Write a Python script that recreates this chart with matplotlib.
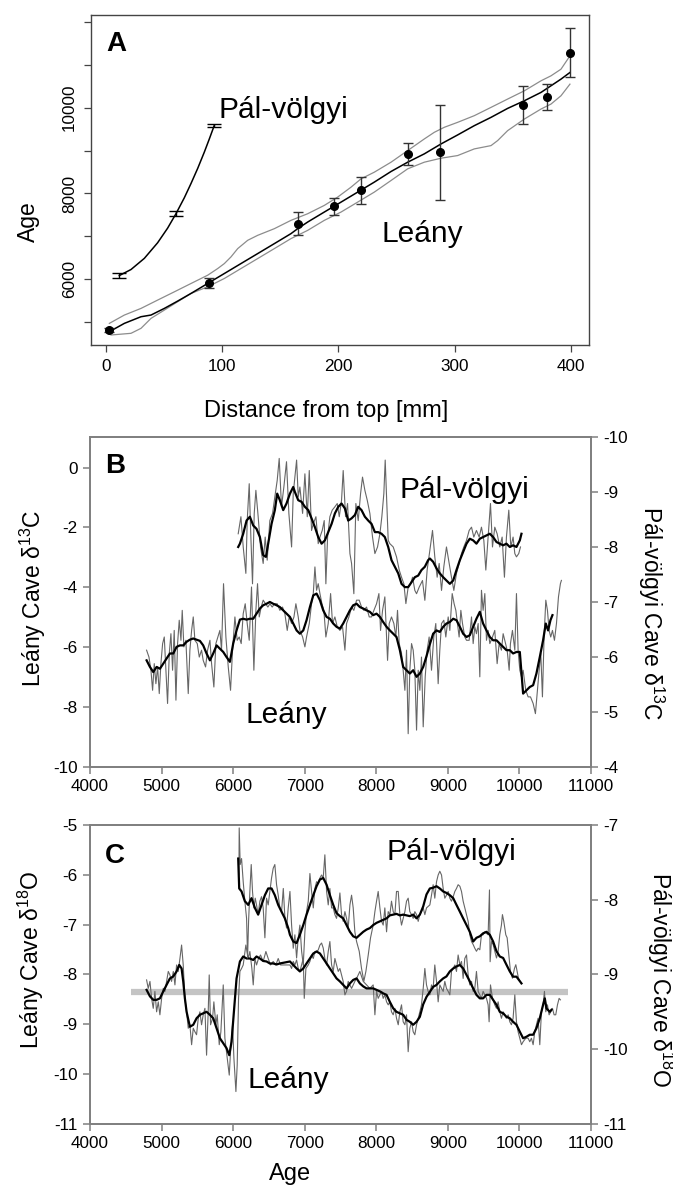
import matplotlib.pyplot as plt

plt.rcParams['font.family'] = ['Liberation Sans', 'DejaVu Sans']
plt.rcParams['mathtext.fontset'] = 'custom'
plt.rcParams['mathtext.rm'] = 'Liberation Sans'
plt.rcParams['axes.unicode_minus'] = False

TICKFONT = ['Liberation Sans Narrow', 'Liberation Sans', 'DejaVu Sans']
TICKSIZE = 12.3

# ---------------- panel A : age models ----------------
lean_mm = [2.9, 88.9, 164.9, 196.4, 219.4, 259.5, 287.6, 359.0, 379.4, 399.1]
lean_age = [4814, 5915, 7295, 7705, 8070, 8923, 8961, 10062, 10256, 11287]
lean_err = [54, 116, 271, 200, 322, 248, 1105, 434, 298, 570]

lean_mod_mm = [2.9, 15.8, 30.1, 38.7, 50.2, 61.6, 73.1, 87.4, 101.8, 116.1, 130.5, 144.8,
               159.1, 164.9, 173.5, 187.8, 202.2, 216.5, 230.8, 245.2, 259.5, 273.8, 288.2,
               302.5, 316.8, 331.2, 345.5, 359.9, 374.2, 382.8, 391.4, 399.1]
lean_mod_age = [4775, 4969, 5124, 5163, 5318, 5488, 5667, 5899, 6132, 6364, 6597, 6829,
                7062, 7178, 7333, 7566, 7798, 8031, 8264, 8512, 8729, 8923, 9155,
                9365, 9581, 9775, 9984, 10163, 10357, 10512, 10667, 10822]

lean_up_mm = [2.9, 15.8, 30.1, 44.4, 58.8, 73.1, 87.5, 96.1, 101.8, 107.5, 113.3, 121.9,
              130.5, 144.8, 159.1, 173.5, 187.8, 199.3, 210.8, 219.4, 230.8, 245.2, 259.5,
              273.8, 282.4, 291.0, 302.5, 316.8, 331.2, 345.5, 359.9, 374.2, 382.8, 391.4, 399.1]
lean_up_age = [4969, 5163, 5318, 5512, 5705, 5899, 6093, 6248, 6364, 6519, 6713, 6907,
               7023, 7178, 7372, 7527, 7721, 7915, 8147, 8341, 8496, 8729, 9000,
               9271, 9426, 9543, 9659, 9814, 10008, 10202, 10395, 10628, 10744, 10899, 11209]

lean_lo_mm = [4.3, 21.5, 30.1, 38.7, 50.2, 61.6, 73.1, 87.5, 101.8, 116.1, 130.5, 144.8,
              159.1, 173.5, 187.8, 202.2, 216.5, 230.8, 245.2, 259.5, 273.8, 288.2, 302.5,
              316.8, 331.2, 336.9, 345.5, 359.9, 374.2, 382.8, 391.4, 399.1]
lean_lo_age = [4698, 4737, 4853, 5085, 5279, 5473, 5667, 5822, 6016, 6248, 6481, 6713,
               6946, 7139, 7372, 7566, 7798, 8031, 8302, 8574, 8729, 8822, 8884,
               9039, 9116, 9233, 9465, 9736, 9969, 10085, 10279, 10550]

pal_mm = [11.5, 60.2, 93.2]
pal_age = [6085, 7527, 9590]
pal_err = [58, 58, 40]
pal_mod_mm = [11.5, 21.5, 33.0, 44.4, 53.0, 60.2, 67.4, 73.1, 78.9, 84.6, 88.9, 93.2]
pal_mod_age = [6085, 6225, 6486, 6849, 7190, 7527, 7900, 8230, 8585, 8965, 9272, 9590]

a_xticks = [0, 100, 200, 300, 400]
a_yticks = [5000, 6000, 7000, 8000, 9000, 10000, 11000, 12000]
a_ylabels = ['', '6000', '', '8000', '', '10000', '', '']

# ---------------- panel B : d13C ----------------
b_lean_age = [4791, 4824, 4852, 4875, 4898, 4921, 4945, 4968, 4991, 5015, 5038, 5061, 5084,
              5108, 5131, 5154, 5177, 5201, 5224, 5247, 5271, 5289, 5312, 5340, 5373, 5396,
              5420, 5443, 5466, 5499, 5527, 5559, 5582, 5615, 5643, 5676, 5699, 5731, 5759,
              5787, 5815, 5838, 5866, 5899, 5932, 5964, 5992, 6025, 6057, 6085, 6113, 6141,
              6169, 6197, 6225, 6257, 6290, 6318, 6341, 6365, 6392, 6420, 6453, 6486, 6514,
              6546, 6579, 6616, 6653, 6690, 6723, 6756, 6784,
              6817, 6850, 6877, 6910, 6933, 6971, 7003, 7026, 7064, 7096, 7120, 7143, 7166,
              7189, 7213, 7241, 7268, 7296, 7329, 7362, 7389, 7422, 7455, 7492, 7529, 7562,
              7585, 7618, 7655, 7687, 7725, 7762, 7794, 7827, 7864, 7902, 7934, 7967, 8004,
              8037, 8060, 8088, 8120, 8144, 8158, 8181, 8213, 8246, 8274, 8297, 8321, 8353,
              8376, 8400, 8423, 8446, 8469, 8493, 8516, 8539, 8563, 8586, 8609, 8632, 8656,
              8684, 8711, 8739,
              8772, 8804, 8832, 8865, 8888, 8912, 8944, 8972, 9005, 9028, 9061, 9088, 9112,
              9135, 9158, 9182, 9205, 9237, 9261, 9298, 9331, 9354, 9377, 9400, 9424, 9447,
              9470, 9493, 9517, 9540, 9563, 9587, 9624, 9656, 9689, 9717, 9749, 9773, 9796,
              9829, 9857, 9875, 9903, 9936, 9959, 9982, 10006, 10029, 10052, 10089, 10122,
              10155, 10192, 10224, 10252, 10276, 10299, 10322, 10345, 10369, 10392, 10415,
              10438, 10462, 10490, 10518, 10546, 10573, 10587]
b_lean_raw = [-6.10, -6.33, -6.77, -7.44, -6.55, -7.22, -6.66, -7.55, -6.55, -5.88, -5.66, -6.77, -7.88,
              -6.21, -5.55, -6.77, -5.44, -7.77, -5.88, -5.10, -5.77, -4.77, -5.99, -5.77, -7.55, -6.10,
              -5.44, -4.99, -5.77, -5.88, -6.33, -6.10, -6.44, -6.66, -6.10, -5.77, -6.55, -7.33, -5.88,
              -5.66, -5.44, -6.10, -3.88, -5.66, -6.66, -7.44, -6.10, -4.99, -5.77, -5.66, -5.88, -4.88,
              -4.55, -5.21, -5.77, -3.99, -6.77, -4.77, -3.88, -4.99, -4.66, -4.43, -4.55, -4.66, -4.55,
              -4.66, -4.55, -4.55, -4.77, -4.66, -4.88, -5.44, -4.99,
              -5.21, -4.99, -4.55, -4.99, -5.44, -5.66, -5.99, -5.66, -5.21, -4.55, -4.21, -3.32, -4.10,
              -3.88, -4.21, -4.55, -4.77, -5.66, -5.21, -4.21, -5.21, -4.99, -5.32, -5.44, -5.32, -6.10,
              -5.21, -4.99, -4.66, -4.77, -4.43, -4.43, -4.66, -4.77, -4.66, -4.99, -4.99, -4.77, -4.55,
              -4.21, -5.44, -4.77, -4.32, -5.66, -6.44, -5.21, -4.99, -5.21, -5.66, -4.77, -5.88, -6.21,
              -6.77, -7.44, -6.10, -8.89, -6.77, -5.88, -6.10, -6.77, -8.77, -6.77, -7.44, -6.33, -8.66,
              -6.99, -6.10, -5.66,
              -6.77, -5.66, -5.21, -7.22, -6.10, -5.21, -5.10, -5.66, -4.99, -5.44, -4.21, -4.55, -4.77,
              -5.21, -5.66, -4.77, -5.21, -5.66, -5.77, -5.77, -4.99, -5.88, -5.32, -5.55, -5.21, -6.99,
              -4.10, -4.77, -4.21, -5.77, -5.44, -5.88, -5.66, -5.44, -6.55, -5.88, -6.10, -5.55, -5.77,
              -6.10, -6.77, -5.88, -5.44, -6.10, -4.21, -6.10, -6.77, -6.99, -6.77, -7.44, -7.66,
              -7.66, -7.88, -8.22, -7.44, -6.77, -6.21, -7.66, -5.66, -4.43, -4.77, -5.44,
              -5.66, -5.44, -5.77, -5.21, -4.32, -3.88, -3.77]

b_lean_s_age = [4791, 4838, 4884, 4931, 4977, 5024, 5070, 5117, 5164, 5210, 5257, 5303, 5350,
                5396, 5443, 5489, 5536, 5582, 5629, 5676, 5722, 5769, 5815, 5862, 5908, 5955,
                6001, 6048, 6095, 6141, 6188, 6234, 6281, 6327, 6374, 6420, 6467, 6513, 6560,
                6607, 6653, 6794, 6840, 6887, 6933, 6980, 7026, 7073, 7120, 7166, 7213, 7259,
                7306, 7352, 7399, 7445, 7492, 7538, 7585, 7632, 7678, 7725, 7771, 7818, 7864,
                7911, 7957, 8004, 8051, 8097, 8144, 8190, 8237, 8283, 8330, 8376, 8423, 8469,
                8516, 8563, 8609, 8656, 8702, 8749, 8795, 8842, 8888, 8935, 8981, 9028, 9075,
                9121, 9168, 9214, 9261, 9307, 9354, 9400, 9447, 9493, 9540, 9587, 9633, 9680,
                9726, 9773, 9819, 9866, 9912, 9959, 10006, 10052, 10099, 10145, 10192, 10238,
                10285, 10331, 10369, 10401, 10434, 10462]
b_lean_s = [-6.44, -6.66, -6.83, -6.66, -6.72, -6.55, -6.38, -6.21, -6.21, -5.99, -5.94, -5.94, -5.82,
            -5.75, -5.71, -5.75, -5.79, -5.94, -6.21, -6.44, -6.21, -5.94, -6.05, -6.16, -6.33, -6.49,
            -5.88, -5.44, -5.08, -5.05, -5.08, -5.05, -5.05, -4.88, -4.71, -4.60, -4.55, -4.49, -4.55,
            -4.60, -4.66, -4.99, -5.21, -5.44, -5.55, -5.44, -5.10, -4.66, -4.27, -4.21, -4.43, -4.77,
            -4.99, -5.05, -5.21, -5.32, -5.38, -5.21, -4.99, -4.77, -4.60, -4.55, -4.66, -4.71, -4.77,
            -4.82, -4.93, -4.88, -4.99, -5.16, -5.32, -5.44, -5.55, -5.66, -6.10, -6.66, -6.77, -6.88,
            -6.77, -6.99, -6.88, -6.66, -6.30, -5.90, -5.55, -5.44, -5.49, -5.32, -5.21, -5.16, -5.05,
            -5.10, -5.32, -5.55, -5.66, -5.60, -5.32, -5.05, -4.82, -5.21, -5.44, -5.66, -5.77, -5.77,
            -5.88, -5.99, -6.10, -6.10, -6.21, -6.16, -6.16, -7.55, -7.44, -7.33, -7.27, -6.88,
            -6.33, -5.77, -5.21, -5.44, -5.10, -4.93]

b_pal_age = [6071, 6109, 6141, 6178, 6197, 6225, 6248, 6271, 6295, 6318, 6350, 6383, 6420,
             6448, 6476, 6513, 6551, 6583, 6616, 6644, 6676, 6709, 6746, 6779,
             6817, 6840, 6863, 6887, 6910, 6933, 6971, 7003, 7036, 7064, 7096, 7120, 7157,
             7189, 7213, 7245, 7273, 7296, 7320, 7352, 7385, 7422, 7455, 7483, 7515, 7538,
             7571, 7599, 7632, 7655, 7687, 7715, 7748, 7781, 7808, 7841, 7874, 7911, 7948,
             7981, 8018, 8051, 8078, 8106, 8125, 8144, 8167, 8190, 8237, 8283, 8321, 8353,
             8386, 8414, 8446, 8479, 8507, 8539, 8563, 8600,
             8646, 8679, 8711, 8749, 8786, 8818, 8851, 8879, 8912, 8944, 8981, 9019, 9051,
             9084, 9121, 9158, 9191, 9223, 9261, 9298, 9331, 9363, 9400, 9438, 9470, 9503,
             9531, 9563, 9596, 9624, 9656, 9689, 9726, 9759, 9791, 9819, 9852, 9880, 9912,
             9936, 9959, 9991, 10015]
b_pal_raw = [-8.24, -8.55, -8.00, -7.52, -8.48, -9.15, -8.18, -7.33, -8.61, -9.03, -8.55, -8.00, -7.70,
             -8.18, -7.76, -8.48, -8.61, -8.91, -9.21, -9.61, -8.73, -9.09, -9.55, -8.61,
             -8.00, -8.97, -9.27, -9.58, -8.91, -9.09, -8.61, -9.33, -8.55, -9.39, -8.30, -8.42, -8.55,
             -8.06, -8.18, -8.30, -8.48, -7.33, -8.18, -8.55, -8.67, -8.73, -8.79, -8.55, -8.85, -9.39,
             -8.55, -8.79, -7.88, -7.70, -7.15, -8.79, -8.48, -8.97, -9.27, -9.03, -8.85, -8.61, -8.18,
             -7.88, -8.00, -8.24, -8.55, -8.97, -9.58, -8.91, -8.12, -8.06, -8.00, -7.82, -7.58, -7.45,
             -7.33, -6.97, -7.27, -7.33, -7.45, -7.21, -7.15, -7.27,
             -7.39, -7.03, -7.58, -7.94, -8.30, -7.82, -7.45, -7.70, -7.21, -7.64, -8.00, -7.70, -7.45,
             -7.21, -7.52, -7.70, -7.88, -8.00, -8.12, -8.30, -8.36, -8.18, -8.30, -8.18, -8.36, -8.12,
             -7.58, -8.18, -8.79, -8.00, -8.36, -8.24, -8.00, -8.18, -7.45, -8.18, -8.67, -8.00, -8.18,
             -7.88, -7.82, -7.88, -8.00]

b_pal_s_age = [6071, 6095, 6141, 6188, 6234, 6281, 6327, 6374, 6420, 6458, 6490, 6537, 6583,
               6616, 6653, 6700, 6746, 6794, 6840, 6863, 6910, 6957, 7003, 7050, 7096, 7143,
               7189, 7236, 7282, 7329, 7376, 7422, 7469, 7515, 7562, 7608, 7655, 7701, 7748,
               7794, 7841, 7888, 7934, 7981, 8027, 8074, 8120, 8167, 8213, 8260, 8307, 8353,
               8400, 8446, 8493, 8539, 8586, 8632, 8679, 8725, 8749, 8795, 8842, 8888, 8935,
               8981, 9028, 9075, 9121, 9168, 9214, 9261, 9307, 9354, 9400, 9447, 9493, 9540,
               9587, 9633, 9680, 9726, 9773, 9819, 9866, 9912, 9959, 10006, 10029]
b_pal_s = [-8.00, -8.06, -8.24, -8.48, -8.55, -8.39, -8.33, -8.18, -7.85, -7.82, -8.06, -8.42, -8.67,
           -8.97, -8.85, -8.67, -8.79, -8.97, -9.09, -9.00, -8.85, -8.82, -8.73, -8.67, -8.52, -8.36,
           -8.18, -8.06, -8.12, -8.27, -8.42, -8.61, -8.73, -8.79, -8.70, -8.48, -8.52, -8.58, -8.73,
           -8.67, -8.55, -8.48, -8.42, -8.27, -8.27, -8.24, -8.18, -8.00, -7.76, -7.64, -7.52, -7.33,
           -7.27, -7.27, -7.36, -7.45, -7.48, -7.58, -7.64, -7.76, -7.79, -7.73, -7.61, -7.52, -7.45,
           -7.39, -7.33, -7.39, -7.58, -7.76, -7.91, -8.06, -8.15, -8.12, -8.06, -8.15, -8.18, -8.21,
           -8.24, -8.18, -8.09, -8.06, -8.03, -8.06, -8.00, -8.03, -8.00, -8.12, -8.24]

# ---------------- panel C : d18O ----------------
c_lean_age = [4791, 4814, 4838, 4861, 4884, 4907, 4931, 4954, 4977, 5001, 5024, 5047, 5070,
              5094, 5117, 5140, 5164, 5187, 5210, 5233, 5257, 5280, 5303, 5326, 5350, 5373,
              5396, 5420, 5443, 5466, 5489, 5513, 5536, 5559, 5582, 5606, 5629, 5652, 5666,
              5685, 5713, 5731, 5759, 5778, 5806, 5829, 5862, 5885, 5918, 5946, 5964, 5992,
              6011, 6039, 6057, 6076, 6095, 6118, 6141, 6178, 6211, 6234, 6262, 6281, 6304,
              6327, 6355, 6383, 6420, 6458, 6490, 6523, 6560, 6597, 6630, 6662,
              6794, 6817, 6840, 6863, 6887, 6910, 6933, 6957, 6980, 6994, 7017, 7050, 7073,
              7096, 7120, 7143, 7166, 7189, 7213, 7236, 7259, 7282, 7306, 7329, 7352, 7376,
              7399, 7422, 7445, 7469, 7492, 7515, 7538, 7562, 7585, 7608, 7632, 7655, 7678,
              7701, 7725, 7771, 7818, 7864, 7911, 7957, 7981, 8004, 8027, 8051, 8074, 8097,
              8120, 8144, 8167, 8190, 8213, 8237, 8260, 8283, 8307, 8330, 8353, 8376, 8400,
              8423, 8446, 8469, 8493, 8516, 8539, 8563, 8586, 8609, 8632, 8656, 8679, 8702, 8725,
              8749, 8772, 8795, 8818, 8842, 8865, 8888, 8912, 8935, 8958, 8981, 9005, 9028,
              9051, 9075, 9098, 9121, 9144, 9168, 9191, 9214, 9237, 9261, 9284, 9307, 9331,
              9354, 9377, 9400, 9424, 9447, 9470, 9493, 9517, 9540, 9563, 9577, 9596, 9624,
              9656, 9680, 9703, 9726, 9749, 9773, 9796, 9819, 9843, 9866, 9889, 9912, 9936,
              9959, 9982, 10006, 10029, 10052, 10089, 10122, 10145, 10168, 10192, 10215,
              10238, 10261, 10285, 10308, 10331, 10350, 10369, 10392, 10415, 10438, 10462,
              10485, 10508, 10532, 10555, 10573]
c_lean_raw = [-8.11, -8.28, -8.14, -8.48, -8.68, -8.34, -8.75, -8.55, -8.81, -8.48, -8.28, -8.34, -8.14,
              -7.94, -8.01, -8.14, -7.94, -8.21, -7.81, -7.94, -7.68, -7.41, -7.81, -8.48, -8.75, -9.08,
              -9.01, -9.41, -9.08, -9.15, -9.21, -8.88, -8.75, -9.01, -8.81, -8.68, -9.62, -8.75, -8.01,
              -9.01, -8.88, -8.55, -9.01, -8.81, -9.41, -9.15, -8.21, -9.28, -9.68, -10.02, -9.55, -9.01,
              -9.68, -10.35, -9.82, -8.48, -7.94, -7.88, -7.81, -7.41, -7.68, -7.54, -7.88, -8.21, -7.68,
              -7.81, -7.68, -7.61, -7.74, -7.54, -7.68, -7.81, -7.74, -7.81, -7.68, -7.81,
              -7.81, -7.88, -7.74, -7.81, -7.71, -7.88, -7.94, -7.81, -7.68, -8.48, -7.88, -7.81, -7.74,
              -7.61, -7.68, -7.54, -7.54, -7.51, -7.41, -7.37, -7.47, -7.68, -7.81, -7.54, -7.34, -7.81,
              -7.94, -7.68, -7.81, -7.94, -7.88, -8.01, -8.14, -8.41, -8.34, -8.14, -8.21, -8.28, -8.21,
              -8.14, -8.08, -7.94, -8.14, -8.21, -8.28, -8.21, -8.81, -8.34, -8.48, -8.41, -8.34, -8.48,
              -8.41, -8.55, -8.61, -8.55, -8.75, -8.81, -8.68, -8.88, -9.01, -8.75, -8.61, -8.95, -9.01,
              -8.81, -9.55, -9.08, -8.95, -9.15, -9.21, -9.01, -8.88, -8.75, -8.61, -8.28, -7.88, -8.21, -8.34,
              -8.41, -8.21, -8.28, -7.81, -8.14, -8.55, -8.21, -8.28, -8.34, -8.14, -8.28, -8.34, -8.41,
              -7.94, -7.88, -7.81, -7.94, -7.61, -7.81, -7.74, -8.08, -7.68, -7.61, -8.01, -8.21, -8.14,
              -8.34, -8.28, -7.94, -8.34, -8.41, -8.48, -8.34, -8.41, -8.48, -8.61, -8.95, -8.21, -8.48,
              -8.61, -8.68, -8.55, -8.75, -8.88, -8.75, -8.81, -8.88, -8.81, -8.95, -9.01, -8.88, -8.41,
              -8.95, -9.15, -9.28, -9.41, -9.35, -9.28, -9.28, -9.35, -9.28, -9.41, -9.15,
              -9.01, -8.88, -9.41, -8.75, -8.61, -8.34, -8.75, -8.61, -8.81, -8.75, -8.68,
              -8.81, -8.81, -8.61, -8.48, -8.51]

c_lean_s_age = [4791, 4838, 4884, 4931, 4977, 5024, 5070, 5117, 5164, 5210, 5247, 5280, 5303,
                5326, 5350, 5396, 5443, 5489, 5536, 5582, 5629, 5676, 5722, 5769, 5815, 5862,
                5908, 5946, 5978, 6011, 6048, 6095, 6141, 6188, 6234, 6281, 6327, 6374, 6420,
                6467, 6513, 6560, 6607, 6653, 6794, 6840, 6887, 6933, 6980, 7026, 7073, 7120,
                7166, 7213, 7259, 7306, 7352, 7399, 7445, 7492, 7538, 7585, 7632, 7678, 7725,
                7771, 7818, 7864, 7911, 7957, 8004, 8051, 8097, 8144, 8190, 8237, 8283, 8330,
                8376, 8423, 8469, 8516, 8563, 8609, 8656, 8702, 8749, 8795, 8842, 8888, 8935,
                8981, 9028, 9075, 9121, 9168, 9214, 9261, 9307, 9354, 9400, 9447, 9493, 9540,
                9587, 9633, 9680, 9726, 9773, 9819, 9866, 9912, 9959, 10006, 10052, 10099,
                10145, 10192, 10238, 10285, 10331, 10355, 10378, 10424, 10448]
c_lean_s = [-8.31, -8.44, -8.51, -8.51, -8.48, -8.34, -8.21, -8.08, -8.04, -7.94, -7.81, -7.88, -8.14,
            -8.48, -8.75, -9.05, -9.01, -8.88, -8.81, -8.78, -8.75, -8.81, -8.88, -9.08, -9.28, -9.38,
            -9.48, -9.62, -9.35, -8.75, -8.08, -7.74, -7.64, -7.68, -7.68, -7.71, -7.64, -7.68, -7.73,
            -7.74, -7.78, -7.78, -7.80, -7.78, -7.74, -7.81, -7.88, -7.94, -7.88, -7.78, -7.68, -7.58,
            -7.54, -7.58, -7.68, -7.78, -7.88, -7.98, -8.08, -8.14, -8.21, -8.28, -8.18, -8.11, -8.08,
            -8.18, -8.24, -8.28, -8.28, -8.28, -8.31, -8.34, -8.38, -8.41, -8.55, -8.68, -8.75, -8.78,
            -8.81, -8.91, -8.95, -9.01, -8.95, -8.85, -8.60, -8.45, -8.35, -8.25, -8.21, -8.14, -8.08,
            -8.04, -7.94, -7.88, -7.84, -7.81, -7.88, -8.01, -8.14, -8.28, -8.41, -8.48, -8.48, -8.41,
            -8.41, -8.51, -8.61, -8.75, -8.78, -8.85, -8.88, -8.95, -9.01, -9.15, -9.28, -9.25,
            -9.21, -9.21, -9.08, -8.88, -8.61, -8.48, -8.68, -8.75, -8.71]

c_pal_age = [6081, 6085, 6099, 6118, 6141, 6164, 6188, 6202, 6216, 6234, 6253, 6271, 6290,
             6309, 6327, 6350, 6374, 6397, 6420, 6444, 6467, 6490, 6513, 6537, 6560, 6583,
             6607, 6630, 6653, 6677, 6701, 6724, 6747, 6770, 6794, 6817, 6840, 6863, 6887,
             6910, 6933, 6957, 6980, 7003, 7026, 7050, 7073, 7096, 7120, 7143, 7166, 7189,
             7213, 7236, 7259, 7282, 7306, 7329, 7352, 7376, 7399, 7422, 7445, 7469, 7492,
             7515, 7538, 7562, 7585, 7608, 7632, 7655, 7678, 7701, 7725, 7762, 7794, 7827,
             7855, 7888, 7920, 7957, 7981, 8004, 8027, 8051, 8074, 8097, 8120, 8144, 8167,
             8190, 8213, 8237, 8260, 8283, 8307, 8330, 8353, 8376, 8400, 8423, 8446, 8469,
             8493, 8516, 8539, 8563, 8586, 8609, 8632, 8656, 8679, 8702, 8749, 8772, 8795,
             8818, 8842, 8865, 8888, 8912, 8935, 8958, 8981, 9005, 9028, 9051, 9075, 9098,
             9121, 9144, 9168, 9191, 9214, 9237, 9261, 9284, 9307, 9331, 9354, 9377, 9400,
             9424, 9447, 9470, 9493, 9517, 9540, 9563, 9582, 9591, 9610, 9633, 9656, 9680,
             9703, 9726, 9749, 9763, 9782, 9810, 9829, 9857, 9875, 9903, 9931, 9950, 9968,
             9987, 10006]
c_pal_raw = [-7.67, -7.04, -7.53, -7.45, -7.76, -8.02, -8.25, -8.78, -8.29, -7.89, -7.53, -7.89, -8.11,
             -7.98, -8.07, -8.20, -8.02, -7.96, -8.11, -8.51, -7.98, -8.07, -7.89, -7.71, -7.58, -7.53,
             -7.80, -7.94, -8.11, -8.16, -7.85, -8.25, -8.38, -8.11, -7.89, -8.34, -8.65, -8.47, -8.78,
             -8.51, -8.34, -8.69, -8.87, -8.43, -8.16, -8.02, -7.65, -7.89, -8.11, -7.85, -7.76, -7.78,
             -7.71, -7.67, -7.71, -7.40, -7.89, -8.07, -7.85, -8.11, -8.11, -8.20, -8.25, -8.11, -7.91,
             -8.20, -8.29, -8.16, -8.25, -8.38, -8.07, -7.94, -8.11, -8.43, -8.56, -8.69, -8.92, -9.09,
             -8.96, -8.74, -8.51, -8.34, -8.16, -8.02, -7.89, -8.11, -8.29, -8.34, -8.11, -8.43, -8.16,
             -8.20, -8.02, -8.16, -8.20, -7.89, -7.89, -8.20, -8.34, -8.25, -8.16, -8.02, -7.98, -8.16,
             -8.20, -8.25, -8.16, -8.20, -8.29, -8.20, -8.16, -8.11, -8.20, -8.11, -8.07, -7.94, -7.80,
             -7.98, -7.76, -7.67, -7.62, -7.67, -7.85, -7.98, -7.94, -7.89, -7.98, -8.02, -7.96, -7.89,
             -7.85, -7.80, -7.82, -7.89, -8.02, -8.11, -8.20, -8.29, -8.47, -8.56, -8.60, -8.65, -8.69,
             -8.65, -8.67, -8.47, -8.47, -8.43, -8.45, -8.47, -7.87, -8.83, -8.56, -8.60, -8.69, -8.78,
             -8.69, -8.47, -8.34, -8.20, -8.29, -8.47, -8.51, -8.78, -8.96, -9.05, -8.92, -8.87, -8.96,
             -9.05, -9.09]

c_pal_s_age = [6071, 6085, 6118, 6164, 6211, 6257, 6304, 6350, 6397, 6444, 6490, 6537, 6583,
               6630, 6676, 6723, 6770, 6794, 6840, 6887, 6933, 6980, 7026, 7073, 7120, 7166,
               7213, 7259, 7306, 7352, 7399, 7445, 7492, 7538, 7585, 7632, 7678, 7725, 7771,
               7818, 7864, 7911, 7957, 8004, 8051, 8097, 8144, 8190, 8237, 8283, 8330, 8376,
               8423, 8469, 8516, 8563, 8609, 8656, 8702, 8749, 8795, 8842, 8888, 8935, 8981,
               9028, 9075, 9121, 9168, 9214, 9261, 9307, 9354, 9400, 9447, 9493, 9540, 9587,
               9633, 9680, 9726, 9773, 9819, 9866, 9912, 9959, 10006, 10029]
c_pal_s = [-7.45, -7.85, -7.89, -8.02, -8.07, -7.98, -8.11, -8.20, -8.07, -7.94, -7.85, -7.85, -7.94,
           -8.07, -8.16, -8.25, -8.38, -8.47, -8.56, -8.58, -8.47, -8.34, -8.20, -8.07, -7.94, -7.82,
           -7.73, -7.71, -7.80, -7.94, -8.07, -8.18, -8.22, -8.25, -8.34, -8.43, -8.49, -8.51, -8.47,
           -8.43, -8.40, -8.38, -8.34, -8.31, -8.29, -8.27, -8.25, -8.21, -8.20, -8.19, -8.21, -8.20,
           -8.21, -8.22, -8.20, -8.25, -8.20, -8.09, -7.93, -7.85, -7.84, -7.82, -7.85, -7.89, -7.91,
           -7.94, -7.98, -8.07, -8.16, -8.25, -8.34, -8.43, -8.56, -8.51, -8.49, -8.45, -8.43, -8.47,
           -8.56, -8.69, -8.76, -8.78, -8.87, -8.96, -9.03, -9.03, -9.09, -9.12]

band_age = [4580, 10680]
band_value = [-8.36, -8.36]

RAW = '#666666'
GRID = '#808080'

fig = plt.figure(figsize=(6.73, 11.9), dpi=100)

# ---------------- A ----------------
axA = fig.add_axes([0.1352, 0.7101, 0.7400, 0.2773])
axA.plot(lean_up_mm, lean_up_age, color='#8c8c8c', lw=0.9)
axA.plot(lean_lo_mm, lean_lo_age, color='#8c8c8c', lw=0.9)
axA.plot(lean_mod_mm, lean_mod_age, color='black', lw=1.1)
axA.errorbar(lean_mm, lean_age, yerr=lean_err, fmt='o', color='black', ms=5.5,
             ecolor='#333333', elinewidth=1.0, capsize=3.5, capthick=1.0)
axA.plot(pal_mod_mm, pal_mod_age, color='black', lw=1.1)
axA.errorbar(pal_mm, pal_age, yerr=pal_err, fmt='none', ecolor='black',
             elinewidth=1.0, capsize=5, capthick=1.0)
axA.set_xlim(-12.9, 415.5)
axA.set_ylim(4465, 12163)
axA.set_xticks(a_xticks)
axA.set_yticks(a_yticks)
axA.set_yticklabels(a_ylabels, rotation=90, va='center')
for s in axA.spines.values():
    s.set_color('#444444')
    s.set_linewidth(1.0)
axA.tick_params(direction='out', length=5, width=0.9, color='#444444', labelsize=TICKSIZE, pad=5)
for lab in axA.get_xticklabels() + axA.get_yticklabels():
    lab.set_family(TICKFONT)
axA.text(0, 11326, 'A', fontsize=20, fontweight='bold')
axA.text(97.2, 9767, 'Pál-völgyi', fontsize=21.5)
axA.text(236.6, 6860, 'Leány', fontsize=21.5)
fig.text(0.484, 1 - 417 / 1190, 'Distance from top [mm]', ha='center', va='baseline', fontsize=17)
fig.text(0.0416, 1 - 222 / 1190, 'Age', rotation=90, ha='center', va='center', fontsize=16.5)


def style_excel(ax, ax2):
    for a in (ax, ax2):
        for s in a.spines.values():
            s.set_color(GRID)
            s.set_linewidth(1.3)
        a.tick_params(direction='out', length=5, width=1.1, color=GRID, labelsize=TICKSIZE, pad=4)
        for lab in a.get_xticklabels() + a.get_yticklabels():
            lab.set_family(TICKFONT)


# ---------------- B ----------------
axB = fig.add_axes([0.1337, 0.3555, 0.7444, 0.2773])
axB.plot(b_lean_age, b_lean_raw, color=RAW, lw=0.8)
axB.plot(b_lean_s_age, b_lean_s, color='black', lw=1.6)
axB.set_xlim(4000, 11000)
axB.set_ylim(-10, 1.02)
axB.set_xticks([4000, 5000, 6000, 7000, 8000, 9000, 10000, 11000])
axB.set_yticks([0, -2, -4, -6, -8, -10])
axB2 = axB.twinx()
axB2.plot(b_pal_age, b_pal_raw, color=RAW, lw=0.8)
axB2.plot(b_pal_s_age, b_pal_s, color='black', lw=1.6)
axB2.set_ylim(-4, -10)
axB2.set_yticks([-10, -9, -8, -7, -6, -5, -4])
style_excel(axB, axB2)
axB.text(4210, -0.18, 'B', fontsize=20, fontweight='bold')
axB.text(8330, -1.02, 'Pál-völgyi', fontsize=21.5)
axB.text(6179, -8.53, 'Leány', fontsize=21.5)
fig.text(0.049, 1 - 598 / 1190, 'Leány Cave δ$^{13}$C', rotation=90, ha='center', va='center', fontsize=16.5)
fig.text(0.967, 1 - 613 / 1190, 'Pál-völgyi Cave δ$^{13}$C', rotation=270, ha='center', va='center', fontsize=16.5)

# ---------------- C ----------------
axC = fig.add_axes([0.1337, 0.0555, 0.7444, 0.2513])
axC.plot(band_age, band_value, color='#c4c4c4', lw=4.5, solid_capstyle='butt', zorder=1)
axC.plot(c_lean_age, c_lean_raw, color=RAW, lw=0.8)
axC.plot(c_lean_s_age, c_lean_s, color='black', lw=1.6)
axC.set_xlim(4000, 11000)
axC.set_ylim(-11, -5)
axC.set_xticks([4000, 5000, 6000, 7000, 8000, 9000, 10000, 11000])
axC.set_yticks([-5, -6, -7, -8, -9, -10, -11])
axC2 = axC.twinx()
axC2.plot(c_pal_age, c_pal_raw, color=RAW, lw=0.8)
axC2.plot(c_pal_s_age, c_pal_s, color='black', lw=1.6)
axC2.set_ylim(-11, -7)
axC2.set_yticks([-7, -8, -9, -10, -11])
style_excel(axC, axC2)
axC.text(4210, -5.76, 'C', fontsize=20, fontweight='bold')
axC.text(8148, -5.70, 'Pál-völgyi', fontsize=21.5)
axC.text(6207, -10.28, 'Leány', fontsize=21.5)
fig.text(0.046, 1 - 960 / 1190, 'Leány Cave δ$^{18}$O', rotation=90, ha='center', va='center', fontsize=16.5)
fig.text(0.981, 1 - 980 / 1190, 'Pál-völgyi Cave δ$^{18}$O', rotation=270, ha='center', va='center', fontsize=16.5)
fig.text(0.431, 1 - 1180 / 1190, 'Age', ha='center', va='baseline', fontsize=17)

fig.savefig('out.png', dpi=100)
